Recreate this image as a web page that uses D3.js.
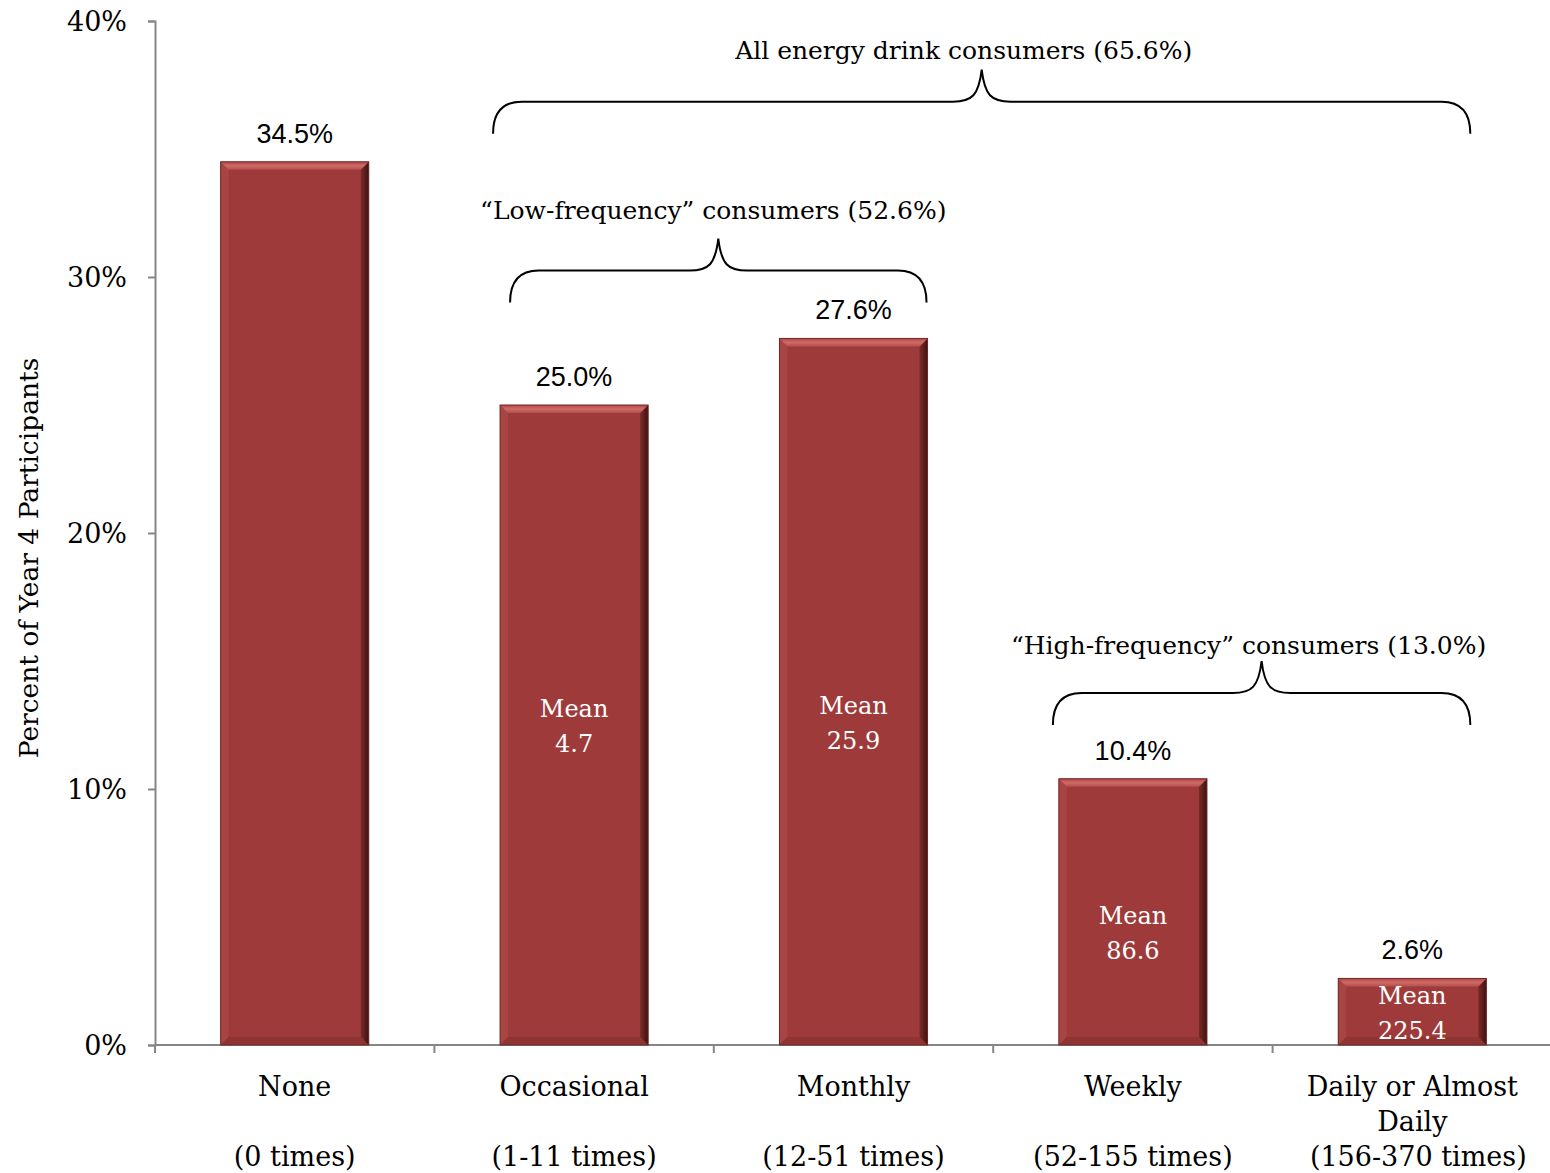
<!DOCTYPE html>
<html>
<head>
<meta charset="utf-8">
<script src="https://cdn.jsdelivr.net/npm/d3@7"></script>
<style>
  body { margin: 0; background: #fff; }
  svg { display: block; }
</style>
</head>
<body>
<div id="chart"></div>
<script>
// Data
const categories = ["None", "Occasional", "Monthly", "Weekly", "Daily or Almost Daily"];
const ranges = ["(0 times)", "(1-11 times)", "(12-51 times)", "(52-155 times)", "(156-370 times)"];
const percents = [34.5, 25.0, 27.6, 10.4, 2.6];
const means = [null, "4.7", "25.9", "86.6", "225.4"];
const yTicks = [0, 10, 20, 30, 40];

// brace groups: first and last category index, label
const braceFrom = [1, 1, 3];
const braceTo = [4, 2, 4];
const braceLabels = [
  "All energy drink consumers (65.6%)",
  "\u201CLow-frequency\u201D consumers (52.6%)",
  "\u201CHigh-frequency\u201D consumers (13.0%)"
];
const braceLevels = [35.6, 29.0, 12.5];

const width = 1550, height = 1173;
const margin = {top: 21, right: 0, bottom: 128, left: 155};

const svg = d3.select("#chart").append("svg")
  .attr("width", width)
  .attr("height", height);

const x = d3.scaleBand()
  .domain(categories)
  .range([margin.left, 1552])
  .paddingInner(0.47)
  .paddingOuter(0.235);

const y = d3.scaleLinear()
  .domain([0, 40])
  .range([height - margin.bottom, margin.top]);

const serif = "'DejaVu Serif', serif";
const sans = "'Liberation Sans', Arial, sans-serif";

// Y axis
const yAxis = svg.append("g")
  .attr("transform", `translate(${margin.left},0)`)
  .call(d3.axisLeft(y).tickValues(yTicks).tickFormat(d => d + "%").tickSize(7).tickSizeOuter(7));
yAxis.selectAll("path, line").attr("stroke", "#868686").attr("stroke-width", 2);
yAxis.selectAll("text")
  .attr("font-family", serif).attr("font-size", 27).attr("fill", "#000")
  .attr("x", -28).attr("dy", "0.35em");

// X axis
const xAxisG = svg.append("g").attr("transform", `translate(0,${y(0)})`);
xAxisG.append("line")
  .attr("x1", margin.left).attr("x2", width)
  .attr("stroke", "#868686").attr("stroke-width", 2);
const step = x.step();
const bounds = d3.range(categories.length).map(i => x(categories[i]) + x.bandwidth() / 2 - step / 2);
xAxisG.selectAll(".tick")
  .data(bounds)
  .join("line")
  .attr("x1", d => d).attr("x2", d => d)
  .attr("y1", 0).attr("y2", 8)
  .attr("stroke", "#868686").attr("stroke-width", 2);

// X labels
const labelG = svg.append("g")
  .attr("font-family", serif).attr("font-size", 27).attr("text-anchor", "middle");
categories.forEach((c, i) => {
  const cx = x(c) + x.bandwidth() / 2;
  const t = labelG.append("text").attr("x", cx);
  if (c === "Daily or Almost Daily") {
    t.append("tspan").attr("x", cx).attr("y", 1096).text("Daily or Almost");
    t.append("tspan").attr("x", cx).attr("y", 1131).text("Daily");
    t.append("tspan").attr("x", cx + 6).attr("y", 1166).text(ranges[i]);
  } else {
    t.append("tspan").attr("x", cx).attr("y", 1096).text(c);
    t.append("tspan").attr("x", cx).attr("y", 1166).text(ranges[i]);
  }
});

// Y axis title
svg.append("text")
  .attr("transform", `translate(38,558) rotate(-90)`)
  .attr("text-anchor", "middle")
  .attr("font-family", serif).attr("font-size", 26.5)
  .text("Percent of Year 4 Participants");

// Bars with bevel
const bevel = 8;
const defs = svg.append("defs");
const gTop = defs.append("linearGradient").attr("id", "gTop").attr("x1", 0).attr("y1", 0).attr("x2", 0).attr("y2", 1);
gTop.append("stop").attr("offset", "0%").attr("stop-color", "#b04846");
gTop.append("stop").attr("offset", "50%").attr("stop-color", "#d06a67");
gTop.append("stop").attr("offset", "100%").attr("stop-color", "#b0504e");
const gRight = defs.append("linearGradient").attr("id", "gRight").attr("x1", 0).attr("y1", 0).attr("x2", 1).attr("y2", 0);
gRight.append("stop").attr("offset", "0%").attr("stop-color", "#7a2b29");
gRight.append("stop").attr("offset", "100%").attr("stop-color", "#3e1211");

const barG = svg.append("g").selectAll("g")
  .data(percents)
  .join("g")
  .attr("transform", (d, i) => `translate(${x(categories[i])},${y(d)})`);

barG.append("rect")
  .attr("width", x.bandwidth())
  .attr("height", d => y(0) - y(d))
  .attr("fill", "#9e3b3a");

// left edge
barG.append("polygon")
  .attr("points", d => {
    const h = y(0) - y(d);
    return `0,0 ${bevel},${bevel} ${bevel},${h - bevel} 0,${h}`;
  })
  .attr("fill", "#a84442");
// bottom edge
barG.append("polygon")
  .attr("points", d => {
    const w = x.bandwidth(), h = y(0) - y(d);
    return `0,${h} ${w},${h} ${w - bevel},${h - bevel} ${bevel},${h - bevel}`;
  })
  .attr("fill", "#8e3432");
// right edge (dark)
barG.append("polygon")
  .attr("points", d => {
    const w = x.bandwidth(), h = y(0) - y(d);
    return `${w},0 ${w},${h} ${w - bevel},${h - bevel} ${w - bevel},${bevel}`;
  })
  .attr("fill", "url(#gRight)");
// top edge (light)
barG.append("polygon")
  .attr("points", d => {
    const w = x.bandwidth();
    return `0,0 ${w},0 ${w - bevel},${bevel} ${bevel},${bevel}`;
  })
  .attr("fill", "url(#gTop)");
// outline
barG.append("rect")
  .attr("width", x.bandwidth())
  .attr("height", d => y(0) - y(d))
  .attr("fill", "none")
  .attr("stroke", "#6e2826")
  .attr("stroke-width", 1);

// Value labels
svg.append("g").selectAll("text")
  .data(percents)
  .join("text")
  .attr("x", (d, i) => x(categories[i]) + x.bandwidth() / 2)
  .attr("y", d => y(d) - 19)
  .attr("text-anchor", "middle")
  .attr("font-family", sans).attr("font-size", 27)
  .text(d => d.toFixed(1) + "%");

// Mean labels
const meanG = svg.append("g")
  .attr("font-family", serif).attr("font-size", 24)
  .attr("fill", "#fff").attr("text-anchor", "middle");
percents.forEach((p, i) => {
  if (!means[i]) return;
  const cx = x(categories[i]) + x.bandwidth() / 2;
  let mid = Math.min(p / 2, 12.6);
  if (p > 5 && p < 20) mid -= 0.77;
  const cy = y(mid);
  const t = meanG.append("text");
  t.append("tspan").attr("x", cx).attr("y", cy - 8).text("Mean");
  t.append("tspan").attr("x", cx).attr("y", cy + 27).text(means[i]);
});

// Braces
function bracePath(x0, x1, yb, h) {
  const xm = (x0 + x1) / 2;
  const r = h / 2;
  const top = yb - h;
  return `M${x0},${yb} C${x0},${yb - r * 1.1} ${x0 + r * 0.4},${yb - h} ${x0 + r * 1.8},${yb - h}`
    + ` L${xm - r * 1.8},${top}`
    + ` C${xm - r * 0.6},${top} ${xm - 3},${top - r * 0.4} ${xm},${top - h}`
    + ` C${xm + 3},${top - r * 0.4} ${xm + r * 0.6},${top} ${xm + r * 1.8},${top}`
    + ` L${x1 - r * 1.8},${top}`
    + ` C${x1 - r * 0.4},${top} ${x1},${yb - r * 1.1} ${x1},${yb}`;
}

const startOff = [-7, 10, -6];
const endOff = [-16, -1, -16];
const textOff = [-18, -5, -13];
const textRise = [75, 84, 71];
const braceG = svg.append("g");
braceFrom.forEach((f, k) => {
  const x0 = x(categories[f]) + startOff[k];
  const x1 = x(categories[braceTo[k]]) + x.bandwidth() + endOff[k];
  const yb = y(braceLevels[k]);
  braceG.append("path")
    .attr("d", bracePath(x0, x1, yb, 32))
    .attr("fill", "none")
    .attr("stroke", "#000")
    .attr("stroke-width", 2);
  braceG.append("text")
    .attr("x", (x0 + x1) / 2 + textOff[k])
    .attr("y", yb - textRise[k])
    .attr("text-anchor", "middle")
    .attr("font-family", serif).attr("font-size", 25)
    .text(braceLabels[k]);
});
</script>
</body>
</html>
